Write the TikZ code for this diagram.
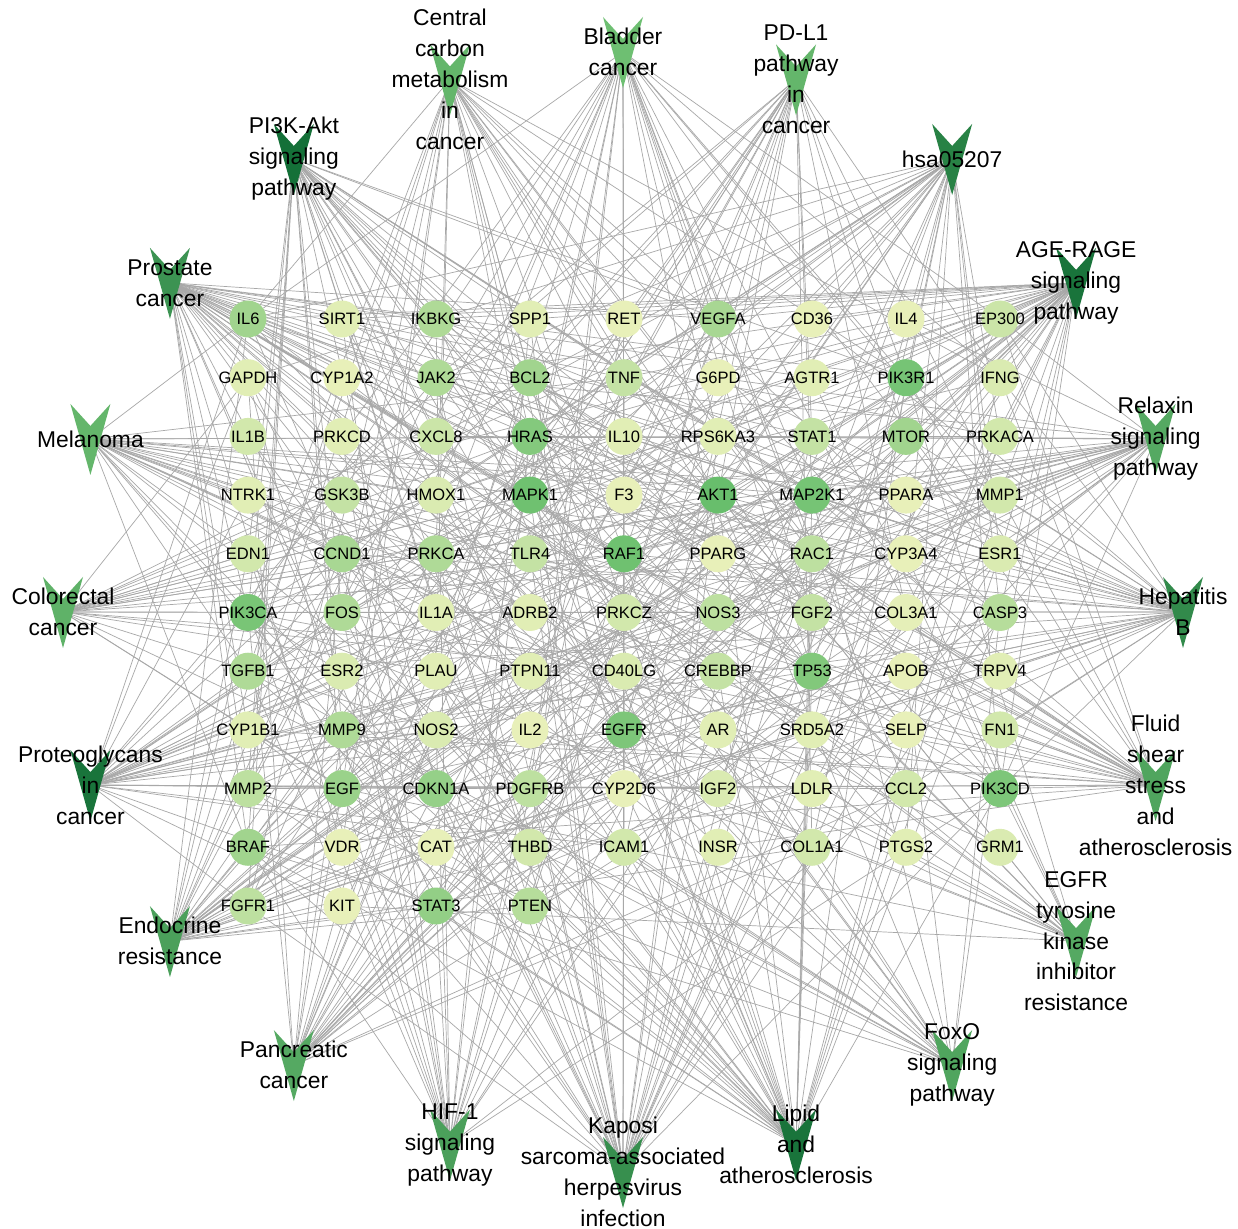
\documentclass[tikz,border=0pt]{standalone}
\usepackage{fontspec}
\setmainfont{Liberation Sans}
\usetikzlibrary{backgrounds}

\definecolor{gnlow}{RGB}{246,246,194}
\definecolor{gnhigh}{RGB}{104,190,108}
\definecolor{pwlow}{RGB}{120,200,120}
\definecolor{pwhigh}{RGB}{20,112,56}
\definecolor{edgegray}{RGB}{168,168,168}

\tikzset{
  gene/.style={circle, minimum size=0.74cm, inner sep=0pt,
    label={[font=\fontsize{9.4}{10}\selectfont, inner sep=0pt]center:#1}},
  pathlabel/.style={align=center, inner sep=0pt,
    font=\fontsize{13}{17.6}\selectfont},
  link/.style={draw=edgegray, line width=0.4pt}
}

% genes, row by row (name/colour level)
\def\genelist{IL6/60, SIRT1/15, IKBKG/50, SPP1/15, RET/10, VEGFA/55, CD36/10, IL4/10, EP300/30,
  GAPDH/15, CYP1A2/10, JAK2/50, BCL2/60, TNF/35, G6PD/10, AGTR1/15, PIK3R1/90, IFNG/20,
  IL1B/25, PRKCD/15, CXCL8/30, HRAS/80, IL10/15, RPS6KA3/15, STAT1/35, MTOR/60, PRKACA/25,
  NTRK1/15, GSK3B/35, HMOX1/20, MAPK1/95, F3/10, AKT1/100, MAP2K1/90, PPARA/10, MMP1/25,
  EDN1/25, CCND1/55, PRKCA/50, TLR4/35, RAF1/95, PPARG/10, RAC1/40, CYP3A4/10, ESR1/20,
  PIK3CA/88, FOS/50, IL1A/15, ADRB2/15, PRKCZ/25, NOS3/40, FGF2/35, COL3A1/12, CASP3/45,
  TGFB1/50, ESR2/20, PLAU/15, PTPN11/15, CD40LG/20, CREBBP/35, TP53/82, APOB/10, TRPV4/15,
  CYP1B1/15, MMP9/50, NOS2/20, IL2/10, EGFR/85, AR/15, SRD5A2/15, SELP/10, FN1/25,
  MMP2/40, EGF/65, CDKN1A/68, PDGFRB/40, CYP2D6/10, IGF2/20, LDLR/15, CCL2/25, PIK3CD/85,
  BRAF/60, VDR/10, CAT/10, THBD/25, ICAM1/25, INSR/15, COL1A1/25, PTGS2/15, GRM1/20,
  FGFR1/40, KIT/10, STAT3/70, PTEN/45}

% pathways, clockwise from the top (label/colour level)
\def\pathlist{{Bladder\\cancer}/10, {PD-L1\\pathway\\in\\cancer}/20, {hsa05207}/80,
  {AGE-RAGE\\signaling\\pathway}/95, {Relaxin\\signaling\\pathway}/35, {Hepatitis\\B}/70,
  {Fluid\\shear\\stress\\and\\atherosclerosis}/40,
  {EGFR\\tyrosine\\kinase\\inhibitor\\resistance}/35, {FoxO\\signaling\\pathway}/40,
  {Lipid\\and\\atherosclerosis}/95,
  {Kaposi\\sarcoma-associated\\herpesvirus\\infection}/65,
  {HIF-1\\signaling\\pathway}/45, {Pancreatic\\cancer}/35, {Endocrine\\resistance}/45,
  {Proteoglycans\\in\\cancer}/95, {Colorectal\\cancer}/25, {Melanoma}/20,
  {Prostate\\cancer}/60, {PI3K-Akt\\signaling\\pathway}/100,
  {Central\\carbon\\metabolism\\in\\cancer}/20}

\begin{document}
\begin{tikzpicture}[x=0.02cm, y=-0.02cm]
  \useasboundingbox (0,0) rectangle (1238,1229);
  \begin{pgfonlayer}{background}
    \fill[white] (0,0) rectangle (1238,1229);
  \end{pgfonlayer}

  % gene grid
  \foreach \g/\lv [count=\n from 0] in \genelist {
    \pgfmathtruncatemacro\col{mod(\n,9)}
    \pgfmathtruncatemacro\row{floor(\n/9)}
    \node[gene=\g, fill=gnhigh!\lv!gnlow] (g\n) at ({248+94*\col},{319+58.7*\row}) {};
  }

  % pathways on a circle
  \def\cx{623}
  \def\cy{612}
  \def\rad{560}
  \foreach \lab/\lp [count=\k from 0] in \pathlist {
    \pgfmathsetmacro\px{\cx+\rad*cos(90-18*\k)}
    \pgfmathsetmacro\py{\cy-\rad*sin(90-18*\k)}
    \fill[pwhigh!\lp!pwlow, shift={(\px,\py)}]
      (-20,-35) -- (0,-13) -- (20,-35) -- (0,36) -- cycle;
    \node[pathlabel] (p\k) at (\px,\py) {\lab};
  }

  % links
  \pgfmathsetseed{2718}
  \begin{pgfonlayer}{background}
    \foreach \lab/\lp [count=\k from 0] in \pathlist {
      \foreach \g/\lv [count=\n from 0] in \genelist {
        \pgfmathsetmacro\pr{(0.06+0.86*\lv/100)*(0.62+0.6*\lp/100)}
        \pgfmathsetmacro\rr{rnd}
        \ifdim\rr pt<\pr pt
          \draw[link] (p\k.center) -- (g\n);
        \fi
      }
    }
  \end{pgfonlayer}
\end{tikzpicture}
\end{document}
